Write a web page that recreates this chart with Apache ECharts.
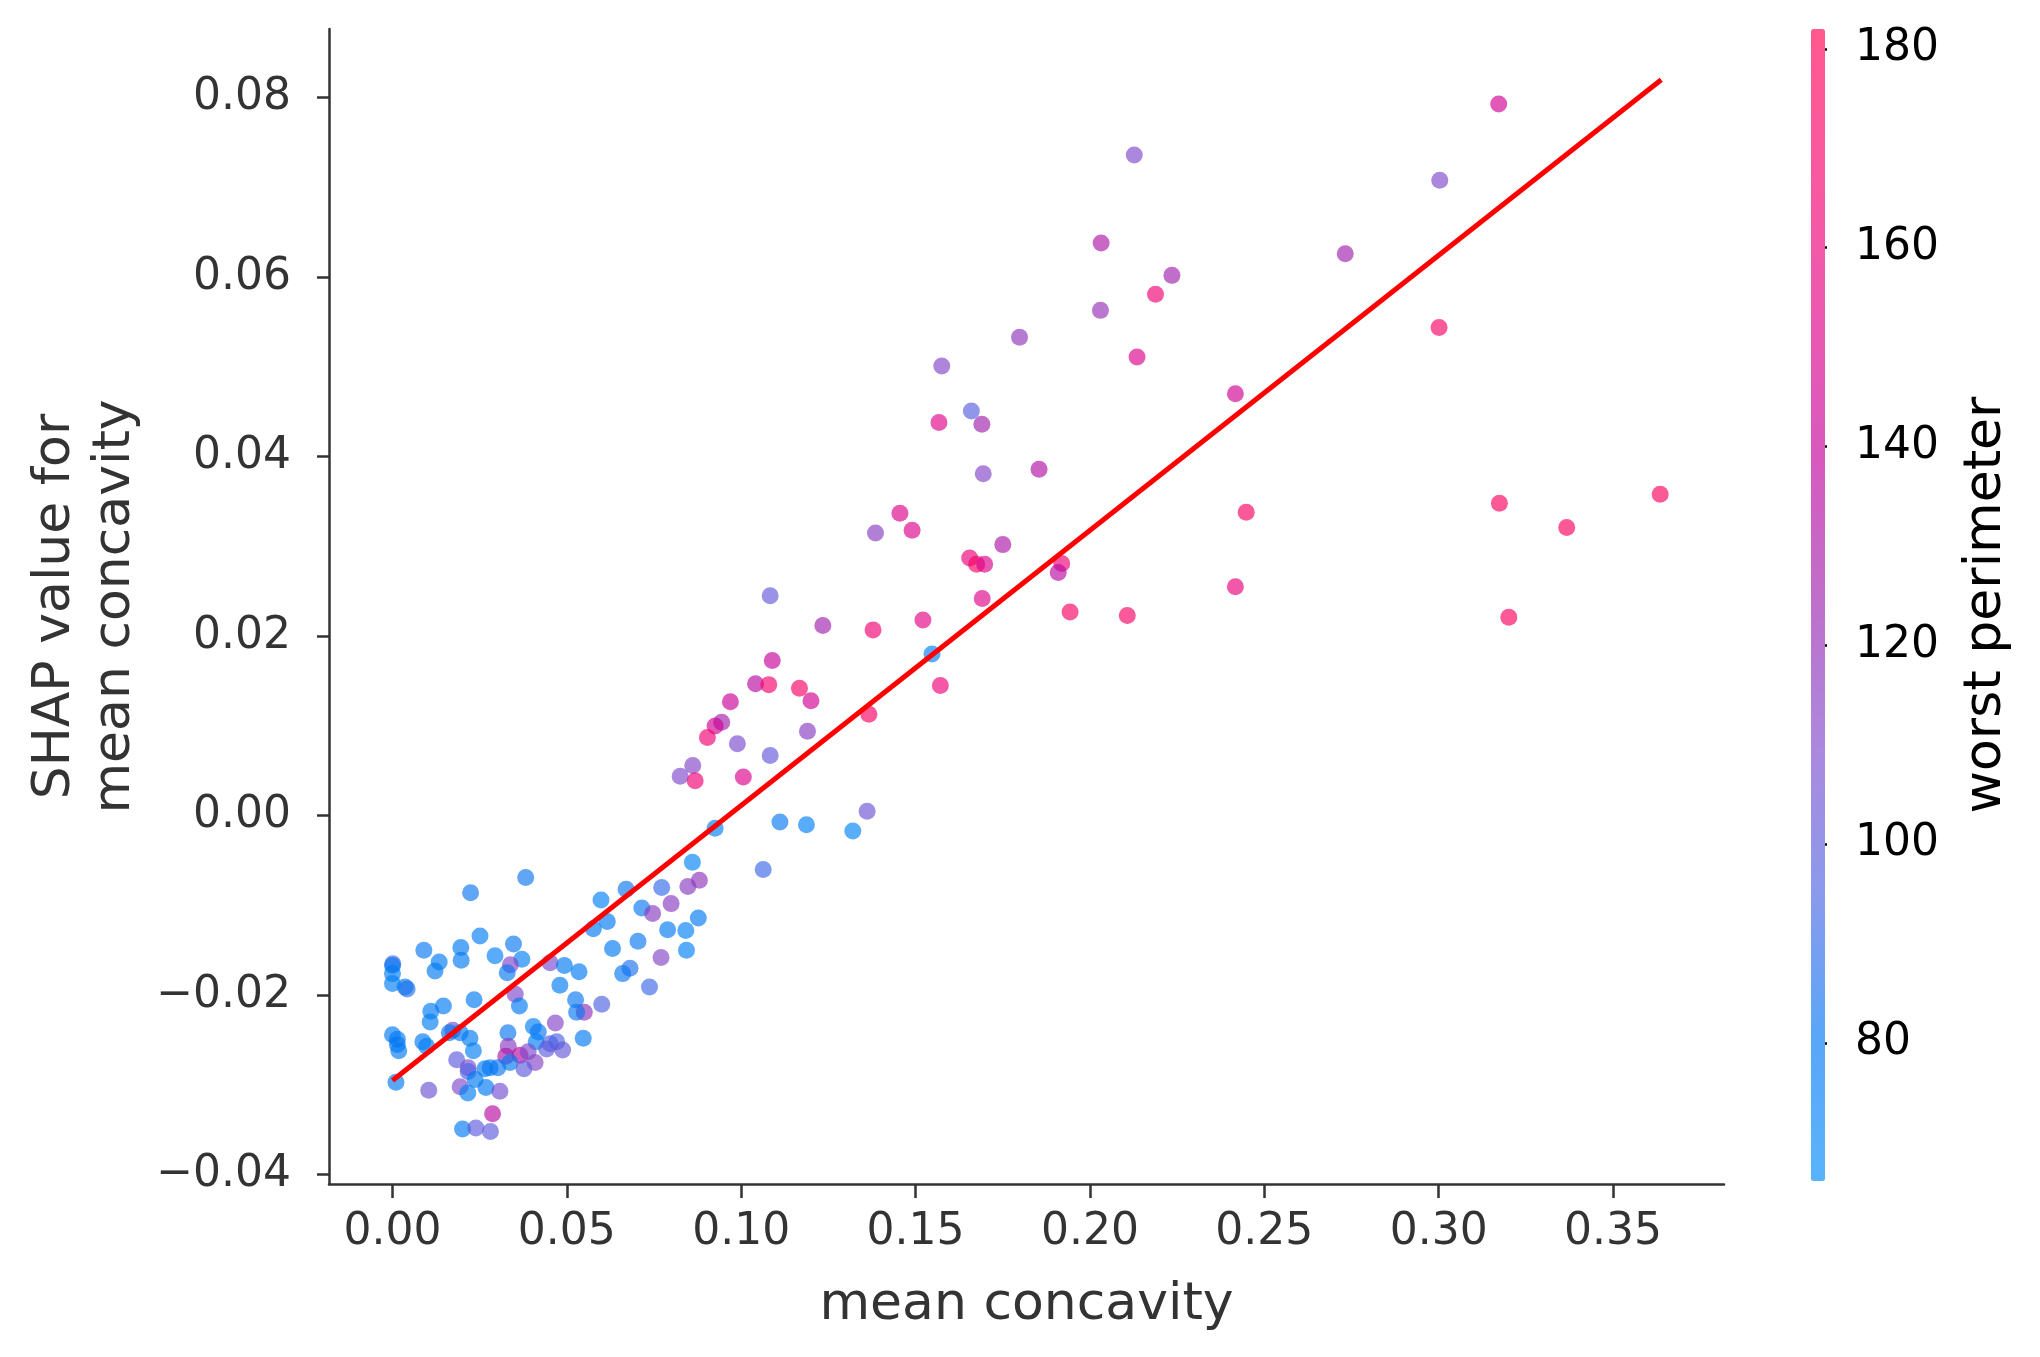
<!DOCTYPE html>
<html>
<head>
<meta charset="utf-8">
<script src="https://cdn.jsdelivr.net/npm/echarts@6/dist/echarts.min.js"></script>
<style>
html,body{margin:0;padding:0;background:#fff;}
#chart{width:2040px;height:1357px;}
</style>
</head>
<body>
<div id="chart"></div>
<script>
// mean concavity (x), SHAP value (y), worst perimeter (colour)
const concavity = [
0.3172,0.2127,0.3003,0.2032,0.2732,0.2235,0.2030,0.2188,0.1575,0.1798,0.2135,0.3001,0.2417,0.1660,0.1567,0.1690,0.1854,0.1694,0.3635,0.3174,0.2448,0.3367,0.2417,0.2107,0.3201,0.1943,
0.1455,0.1385,0.1490,0.1655,0.1675,0.1698,0.1750,0.1919,0.1909,0.1691,0.1083,0.1234,0.1378,0.1521,0.1547,0.1571,0.1366,0.1089,0.1041,0.1079,0.1167,0.1200,0.0969,0.0944,0.0925,0.0903,0.0989,0.1190,0.1083,0.0861,0.0825,0.0868,0.1006,0.1361,0.1111,0.1187,0.1320,0.0925,0.1063,
0.0860,0.0880,0.0847,0.0772,0.0670,0.0598,0.0382,0.0224,0.0715,0.0746,0.0799,0.0877,0.0616,0.0576,0.0789,0.0841,0.0631,0.0704,0.0843,0.0770,
0.0681,0.0660,0.0737,0.0452,0.0493,0.0535,0.0480,0.0347,0.0294,0.0371,0.0338,0.0329,0.0251,0.0196,0.0197,0.0090,0.0134,0.0122,0.0001,0.0000,
0.0000,0.0000,0.0036,0.0042,0.0352,0.0364,0.0234,0.0146,0.0110,0.0108,0.0525,0.0600,0.0550,0.0528,0.0547,0.0467,0.0404,0.0418,0.0412,0.0452,
0.0471,0.0488,0.0442,0.0331,0.0332,0.0325,0.0366,0.0389,0.0409,0.0337,0.0377,0.0302,0.0280,0.0265,0.0222,0.0232,0.0173,0.0163,0.0194,0.0087,
0.0098,0.0000,0.0014,0.0014,0.0018,0.0010,0.0184,0.0217,0.0217,0.0237,0.0194,0.0216,0.0268,0.0308,0.0104,0.0287,0.0201,0.0239,0.0281
];
const shapValue = [
0.0793,0.0736,0.0708,0.0638,0.0626,0.0602,0.0563,0.0581,0.0501,0.0533,0.0511,0.0544,0.0470,0.0451,0.0438,0.0436,0.0386,0.0381,0.0358,0.0348,0.0338,0.0321,0.0255,0.0223,0.0221,0.0227,
0.0337,0.0315,0.0318,0.0287,0.0280,0.0280,0.0302,0.0281,0.0271,0.0242,0.0245,0.0212,0.0207,0.0218,0.0180,0.0145,0.0113,0.0173,0.0147,0.0146,0.0142,0.0128,0.0127,0.0104,0.0100,0.0087,0.0080,0.0094,0.0067,0.0056,0.0044,0.0039,0.0043,0.0005,-0.0007,-0.0010,-0.0017,-0.0014,-0.0060,
-0.0052,-0.0072,-0.0079,-0.0080,-0.0082,-0.0094,-0.0069,-0.0086,-0.0103,-0.0109,-0.0098,-0.0114,-0.0118,-0.0126,-0.0127,-0.0128,-0.0148,-0.0140,-0.0150,-0.0158,
-0.0170,-0.0176,-0.0191,-0.0164,-0.0167,-0.0174,-0.0189,-0.0143,-0.0156,-0.0160,-0.0166,-0.0175,-0.0134,-0.0147,-0.0161,-0.0150,-0.0163,-0.0173,-0.0165,-0.0167,
-0.0176,-0.0187,-0.0191,-0.0193,-0.0199,-0.0212,-0.0205,-0.0212,-0.0218,-0.0230,-0.0205,-0.0210,-0.0219,-0.0219,-0.0248,-0.0231,-0.0235,-0.0241,-0.0252,-0.0254,
-0.0252,-0.0261,-0.0260,-0.0242,-0.0257,-0.0268,-0.0267,-0.0263,-0.0275,-0.0275,-0.0282,-0.0281,-0.0281,-0.0282,-0.0248,-0.0262,-0.0239,-0.0242,-0.0242,-0.0252,
-0.0257,-0.0244,-0.0249,-0.0255,-0.0262,-0.0297,-0.0272,-0.0281,-0.0285,-0.0294,-0.0302,-0.0309,-0.0303,-0.0307,-0.0306,-0.0332,-0.0349,-0.0348,-0.0352
];
const worstPerimeter = [
145,110,110,130,125,125,120,165,112,118,150,172,145,98,152,125,132,112,175,175,172,175,160,172,175,172,
150,115,150,160,172,150,130,162,135,152,102,125,165,155,75,162,172,140,135,168,172,145,142,125,145,165,108,115,102,112,110,165,150,105,82,74,72,74,92,
72,118,115,90,83,74,83,83,82,115,115,80,80,80,80,74,80,82,74,112,
86,82,92,108,80,80,80,82,74,76,112,82,76,80,80,82,80,80,95,80,
78,76,80,86,110,80,80,80,80,76,82,96,118,82,80,112,76,82,74,95,
95,102,100,82,115,130,135,110,112,80,100,82,82,80,80,76,108,80,80,80,
76,80,80,82,80,80,100,108,95,80,110,76,80,106,105,135,80,100,100
];
// fitted trend line end points
const fitX = [0.0, 0.3638];
const fitY = [-0.0295, 0.0820];
// tick labels
const xTicks = [0, 0.05, 0.10, 0.15, 0.20, 0.25, 0.30, 0.35];
const yTicks = [-0.04, -0.02, 0.00, 0.02, 0.04, 0.06, 0.08];
const cbarTicks = [80, 100, 120, 140, 160, 180];

const FONT = 'DejaVu Sans';
const points = concavity.map((x, i) => [x, shapValue[i], worstPerimeter[i]]);
const linePts = fitX.map((x, i) => [x, fitY[i]]);
const fmt = v => (v < 0 ? '\u2212' + Math.abs(v).toFixed(2) : v.toFixed(2));

// shap red_blue colormap (raw) and as it appears with alpha over white
const cmapRaw = ['#008AFA','#0078F3','#4B63E3','#7D49CC','#9B23AD','#C2009C','#E00086','#F5006D','#FF0051'];
const cmapShown = ['#59B3FC','#59A7F7','#8A9AED','#AB89DE','#BE70CA','#D759BF','#EB59B0','#F959A0','#FF598E'];

const chart = echarts.init(document.getElementById('chart'), null, {renderer: 'canvas'});
chart.setOption({
  animation: false,
  backgroundColor: '#ffffff',
  grid: [
    {left: 329, top: 29, width: 1395, height: 1155, containLabel: false, outerBoundsMode: 'none'},
    {left: 1811, top: 29, width: 14, height: 1152, containLabel: false, outerBoundsMode: 'none'}
  ],
  xAxis: [
    {
      type: 'value', gridIndex: 0, min: -0.0182, max: 0.3818,
      splitLine: {show: false},
      axisLine: {show: true, onZero: false, lineStyle: {color: '#333333', width: 2.5}},
      axisTick: {show: true, customValues: xTicks, length: 14, lineStyle: {color: '#333333', width: 2.5}},
      axisLabel: {show: true, customValues: xTicks, formatter: fmt, margin: 27, fontSize: 44, color: '#333333', fontFamily: FONT},
      name: 'mean concavity', nameLocation: 'middle', nameGap: 95,
      nameTextStyle: {fontSize: 52, color: '#333333', fontFamily: FONT}
    },
    {
      type: 'value', gridIndex: 1, min: 0, max: 1, show: false
    }
  ],
  yAxis: [
    {
      type: 'value', gridIndex: 0, min: -0.04104, max: 0.08765,
      splitLine: {show: false},
      axisLine: {show: true, onZero: false, lineStyle: {color: '#333333', width: 2.5}},
      axisTick: {show: true, customValues: yTicks, length: 12, lineStyle: {color: '#333333', width: 2.5}},
      axisLabel: {show: true, customValues: yTicks, formatter: fmt, margin: 38, fontSize: 44, color: '#333333', fontFamily: FONT, padding: [4, 0, 0, 0]},
      name: 'SHAP value for\nmean concavity', nameLocation: 'middle', nameGap: 182, nameRotate: 90,
      nameTextStyle: {fontSize: 52, lineHeight: 60, color: '#333333', fontFamily: FONT, align: 'center'}
    },
    {
      type: 'value', gridIndex: 1, min: 66.1, max: 182, position: 'right',
      splitLine: {show: false},
      axisLine: {show: false},
      axisTick: {show: true, customValues: cbarTicks, length: 16, lineStyle: {color: '#000000', width: 2.5}},
      axisLabel: {show: true, customValues: cbarTicks, margin: 30, fontSize: 44, color: '#000000', fontFamily: FONT, padding: [7, 0, 0, 0]},
      name: 'worst perimeter', nameLocation: 'middle', nameGap: 135, nameRotate: 90,
      nameTextStyle: {fontSize: 52, color: '#000000', fontFamily: FONT}
    }
  ],
  visualMap: {
    type: 'continuous', min: 66.1, max: 182, dimension: 2, seriesIndex: 0,
    left: 1811, top: 29, itemWidth: 14, itemHeight: 1152, padding: 0,
    calculable: false, hoverLink: false, text: null, showLabel: false,
    inRange: {color: cmapRaw},
    controller: {inRange: {color: cmapShown}}
  },
  series: [
    {
      type: 'scatter', xAxisIndex: 0, yAxisIndex: 0,
      data: points, symbol: 'circle', symbolSize: 17,
      itemStyle: {opacity: 0.65, borderWidth: 0},
      z: 2
    },
    {
      type: 'line', xAxisIndex: 0, yAxisIndex: 0,
      data: linePts, symbol: 'none',
      lineStyle: {color: '#ff0000', width: 5},
      z: 5
    }
  ]
});
</script>
</body>
</html>
